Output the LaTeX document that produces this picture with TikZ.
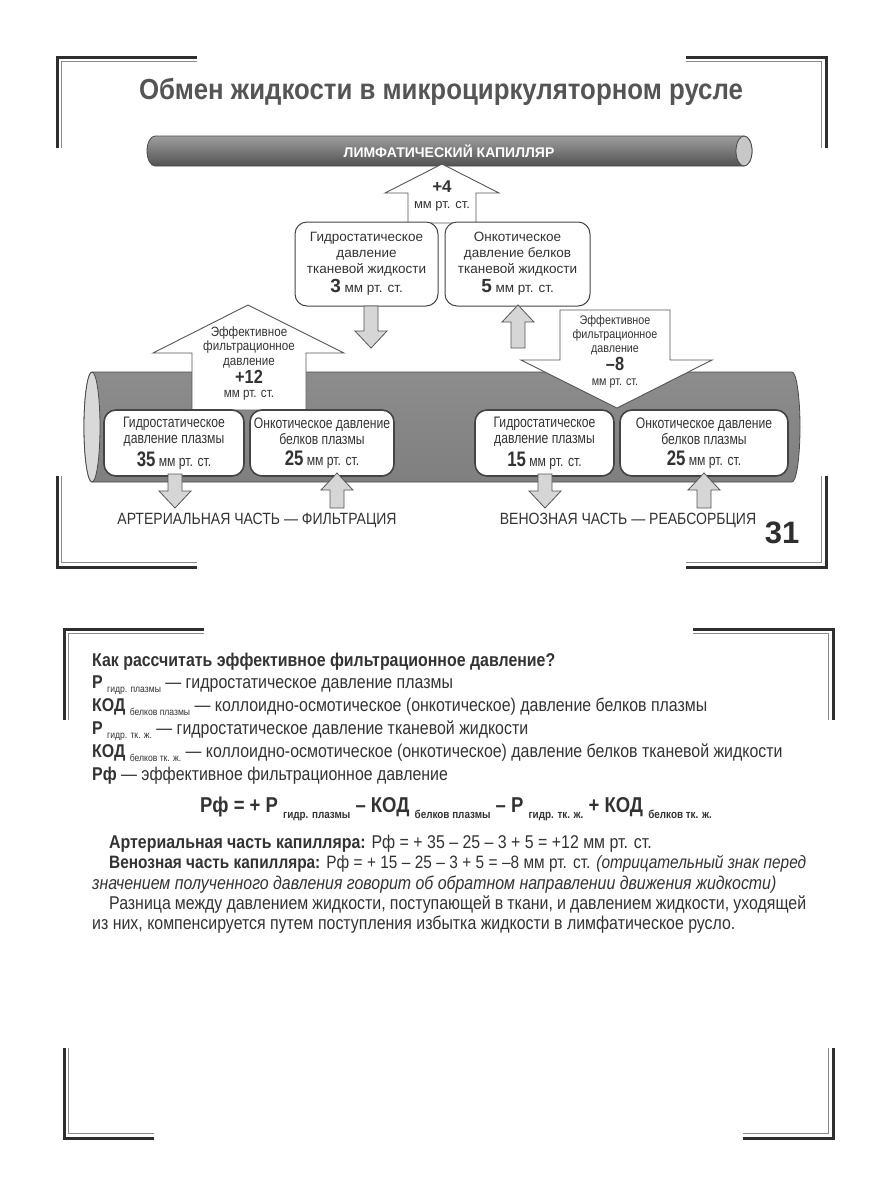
\documentclass[tikz,border=0pt]{standalone}
\usepackage{fontspec}
\setmainfont{Liberation Sans}
\newfontfamily\narrowfont{Liberation Sans}[FakeStretch=0.86]
\newfontfamily\tightfont{Liberation Sans}[FakeStretch=0.80]
\newfontfamily\titlefont{Liberation Sans}[FakeStretch=0.89]
\usetikzlibrary{positioning}

\definecolor{framedark}{HTML}{2E2E2E}
\definecolor{framelight}{HTML}{8A8A8A}
\definecolor{inkgray}{HTML}{333333}
\definecolor{titlegray}{HTML}{555555}
\definecolor{tubeline}{HTML}{4A4A4A}
\definecolor{arrowline}{HTML}{555555}
\definecolor{arrowfill}{HTML}{D6D6D6}
\definecolor{boxline}{HTML}{444444}

\newcommand{\subtxt}[1]{\raisebox{-0.45ex}{\fontsize{10}{10}\selectfont\mdseries #1}}
\newcommand{\bsubtxt}[1]{\raisebox{-0.55ex}{\fontsize{11.5}{11.5}\selectfont\bfseries #1}}

\tikzset{
  pics/downpic/.style={code={\draw[smallarrow] (-7,0) -- (7,0) -- (7,#1-17) -- (16,#1-17) -- (0,#1) -- (-16,#1-17) -- (-7,#1-17) -- cycle;}},
  pics/uppic/.style={code={\draw[smallarrow] (-7,0) -- (7,0) -- (7,17-#1) -- (16,17-#1) -- (0,-#1) -- (-16,17-#1) -- (-7,17-#1) -- cycle;}}
}

\begin{document}
\begin{tikzpicture}[x=1pt,y=-1pt,
  darkline/.style={line width=3pt,draw=framedark},
  lightline/.style={line width=1.4pt,draw=framelight},
  tube/.style={draw=tubeline,line width=0.8pt},
  bigarrow/.style={draw=arrowline,fill=white,line width=0.9pt},
  smallarrow/.style={draw=arrowline,fill=arrowfill,line width=0.8pt},
  tissuebox/.style={draw=boxline,fill=white,rounded corners=12pt,line width=1pt,
    minimum height=84pt,align=center,inner sep=0pt,text=inkgray,
    font=\fontsize{13.5}{16}\selectfont},
  plasmabox/.style={draw=boxline,fill=white,rounded corners=12pt,line width=1.6pt,
    minimum height=66pt,align=center,inner sep=0pt,text=inkgray,
    font=\tightfont\fontsize{15.2}{16.5}\selectfont},
  arrowtext/.style={align=center,inner sep=0pt,text=inkgray},
  textline/.style={anchor=base west,inner sep=0pt,text=inkgray,
    font=\narrowfont\fontsize{18.5}{20}\selectfont},
]
\useasboundingbox[fill=white] (0,0) rectangle (880,1200);

% corner marks of the two frames
\foreach \cx/\cy/\sx/\sy/\lx/\ly in {57/57/1/1/140/91, 826/57/-1/1/140/91,
    57/567/1/-1/140/91, 826/567/-1/-1/140/91,
    64/629/1/1/140/91, 833/629/-1/1/140/91,
    64/1138/1/-1/90/90, 833/1138/-1/-1/90/90}{
  \draw[darkline] (\cx+\sx*\lx,\cy) -- (\cx,\cy) -- (\cx,\cy+\sy*\ly);
  \draw[lightline] (\cx+\sx*\lx,\cy+\sy*4.5) -- (\cx+\sx*4.5,\cy+\sy*4.5) -- (\cx+\sx*4.5,\cy+\sy*\ly);
}

\node[text=titlegray,font=\titlefont\bfseries\fontsize{29}{30}\selectfont] (title) at (441,92) {Обмен жидкости в микроциркуляторном русле};

% lymphatic capillary
\shade[tube,top color=black!38,middle color=black!45,bottom color=black!68]
  (155,136) -- (744,136) arc(-90:90:8 and 15) -- (155,166) arc(90:270:8 and 15) -- cycle;
\draw[tube,fill=black!22] (744,151) ellipse (8 and 15);
\node[text=white,font=\bfseries\fontsize{14}{14}\selectfont] (lymph) at (449,151) {ЛИМФАТИЧЕСКИЙ КАПИЛЛЯР};

% blood capillary
\shade[tube,top color=black!45,middle color=black!18,bottom color=black!50]
  (92,372) -- (792,372) arc(-90:90:8 and 55) -- (92,482) arc(90:270:8 and 55) -- cycle;
\draw[tube,fill=black!15] (92,427) ellipse (8 and 55);

% outflow to the lymph, +4
\draw[bigarrow] (442,164) -- (499,193) -- (476,193) -- (476,223) -- (408,223) -- (408,193) -- (385,193) -- cycle;
\node[arrowtext,font=\bfseries\fontsize{17}{17}\selectfont] (lymphval) at (442,187) {+4};
\node[arrowtext,font=\fontsize{13}{13}\selectfont] (lymphunit) at (442,206) {мм рт. ст.};

% filtration arrow, +12
\draw[bigarrow] (248,305) -- (344,353) -- (306,353) -- (306,410) -- (192,410) -- (192,353) -- (153,353) -- cycle;
\node[arrowtext,font=\narrowfont\fontsize{13.5}{14.5}\selectfont] (filtname) at (249,347) {Эффективное\\фильтрационное\\давление};
\node[arrowtext,font=\narrowfont\bfseries\fontsize{19}{19}\selectfont] (filtval) at (249,377) {+12};
\node[arrowtext,font=\narrowfont\fontsize{13.5}{13.5}\selectfont] (filtunit) at (249,395) {мм рт. ст.};

% reabsorption arrow, -8
\draw[bigarrow] (560,310) -- (670,310) -- (670,360) -- (712,360) -- (617,408) -- (521,360) -- (560,360) -- cycle;
\node[arrowtext,font=\narrowfont\fontsize{12.5}{13.8}\selectfont] (reabname) at (615,335) {Эффективное\\фильтрационное\\давление};
\node[arrowtext,font=\narrowfont\bfseries\fontsize{19}{19}\selectfont] (reabval) at (615,364) {–8};
\node[arrowtext,font=\narrowfont\fontsize{12.5}{12.5}\selectfont] (reabunit) at (615,383) {мм рт. ст.};

% tissue fluid
\node[tissuebox,minimum width=143pt] (tisshyd) at (366.5,264)
  {Гидростатическое\\давление\\тканевой жидкости\\[3pt]{\bfseries\fontsize{19}{19}\selectfont 3} мм рт. ст.};
\node[tissuebox,minimum width=145pt] (tissonc) at (517.5,264)
  {Онкотическое\\давление белков\\тканевой жидкости\\[3pt]{\bfseries\fontsize{19}{19}\selectfont 5} мм рт. ст.};
\pic at (371,306) {downpic=42};
\pic at (518,348) {uppic=43};

% plasma
\node[plasmabox,minimum width=140pt] (arthyd) at (174,443)
  {Гидростатическое\\давление плазмы\\[4pt]{\bfseries\fontsize{21}{21}\selectfont 35} мм рт. ст.};
\node[plasmabox,minimum width=144pt] (artonc) at (322,443)
  {Онкотическое давление\\белков плазмы\\[4pt]{\bfseries\fontsize{21}{21}\selectfont 25} мм рт. ст.};
\node[plasmabox,minimum width=139pt] (venhyd) at (544.5,443)
  {Гидростатическое\\давление плазмы\\[4pt]{\bfseries\fontsize{21}{21}\selectfont 15} мм рт. ст.};
\node[plasmabox,minimum width=168pt] (venonc) at (704,443)
  {Онкотическое давление\\белков плазмы\\[4pt]{\bfseries\fontsize{21}{21}\selectfont 25} мм рт. ст.};
\pic at (175,474) {downpic=34};
\pic at (337,508) {uppic=35};
\pic at (545,474) {downpic=34};
\pic at (704,508) {uppic=35};

\node[text=inkgray,font=\narrowfont\fontsize{16.3}{17}\selectfont] (artlabel) at (257,520) {АРТЕРИАЛЬНАЯ ЧАСТЬ — ФИЛЬТРАЦИЯ};
\node[text=inkgray,font=\narrowfont\fontsize{16.3}{17}\selectfont] (venlabel) at (628,520) {ВЕНОЗНАЯ ЧАСТЬ — РЕАБСОРБЦИЯ};
\node[text=framedark,font=\bfseries\fontsize{31}{31}\selectfont,anchor=base] (pagenum) at (782,543) {31};

% how to compute
\node[textline,font=\narrowfont\bfseries\fontsize{18.5}{20}\selectfont] (question) at (92,666) {Как рассчитать эффективное фильтрационное давление?};
\node[textline] (def1) at (92,688) {\textbf{Р} \subtxt{гидр. плазмы} — гидростатическое давление плазмы};
\node[textline] (def2) at (92,711) {\textbf{КОД} \subtxt{белков плазмы} — коллоидно-осмотическое (онкотическое) давление белков плазмы};
\node[textline] (def3) at (92,734) {\textbf{Р} \subtxt{гидр. тк. ж.} — гидростатическое давление тканевой жидкости};
\node[textline] (def4) at (92,757) {\textbf{КОД} \subtxt{белков тк. ж.} — коллоидно-осмотическое (онкотическое) давление белков тканевой жидкости};
\node[textline] (def5) at (92,780) {\textbf{Рф} — эффективное фильтрационное давление};
\node[textline,anchor=base,font=\narrowfont\bfseries\fontsize{21.5}{22}\selectfont] (formula) at (456,812)
  {Рф = + Р \bsubtxt{гидр. плазмы} – КОД \bsubtxt{белков плазмы} – Р \bsubtxt{гидр. тк. ж.} + КОД \bsubtxt{белков тк. ж.}};
\node[textline] (artcalc) at (109,848) {\textbf{Артериальная часть капилляра:} Рф = + 35 – 25 – 3 + 5 = +12 мм рт. ст.};
\node[textline,font=\narrowfont\fontsize{17.9}{20}\selectfont] (vencalc) at (109,868) {\makebox[697pt][s]{\textbf{Венозная часть капилляра:} Рф = + 15 – 25 – 3 + 5 = –8 мм рт. ст. \textit{(отрицательный знак перед}}};
\node[textline] (vennote) at (92,889) {\textit{значением полученного давления говорит об обратном направлении движения жидкости)}};
\node[textline] (balance1) at (109,909) {\makebox[697pt][s]{Разница между давлением жидкости, поступающей в ткани, и давлением жидкости, уходящей}};
\node[textline] (balance2) at (92,929) {из них, компенсируется путем поступления избытка жидкости в лимфатическое русло.};
\end{tikzpicture}
\end{document}
